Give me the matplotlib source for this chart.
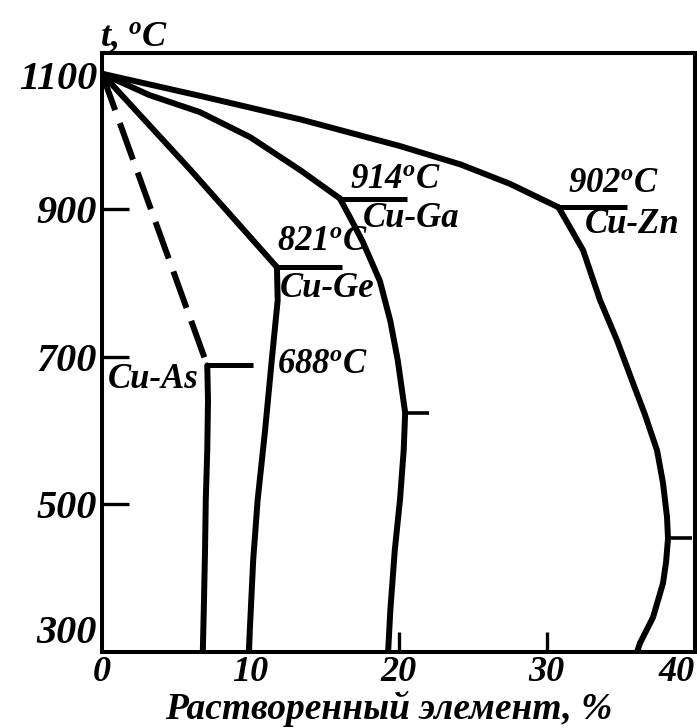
import matplotlib
matplotlib.use("Agg")
import matplotlib.pyplot as plt
from matplotlib.transforms import ScaledTranslation

plt.rcParams["font.family"] = ["Liberation Serif", "DejaVu Serif"]
plt.rcParams["mathtext.fontset"] = "custom"
plt.rcParams["mathtext.it"] = "Liberation Serif:italic:bold"
plt.rcParams["mathtext.rm"] = "Liberation Serif:italic:bold"

# ---- solubility curves (wt. % of dissolved element, temperature in deg C) ----
zn_liq_x = [0, 6.6, 13.4, 20.1, 24.2, 27.5, 30.8]
zn_liq_t = [1083, 1053, 1021, 985, 960, 934, 902]
zn_sol_x = [30.8, 32.45, 33.6, 34.74, 35.82, 36.63, 37.44, 37.84, 38.11, 38.18,
            38.05, 37.84, 37.17, 36.29, 36.09]
zn_sol_t = [902, 844, 776, 722, 664, 621, 573, 529, 483, 454,
            422, 393, 347, 312, 300]

ga_liq_x = [0, 3.2, 6.6, 10.0, 13.4, 16.05]
ga_liq_t = [1083, 1054, 1031, 997, 952, 914]
ga_sol_x = [16.05, 16.9, 17.6, 18.75, 19.45, 19.95, 20.45, 20.35, 20.1, 19.75, 19.45, 19.3]
ga_sol_t = [914, 882, 855, 802, 748, 695, 624, 573, 506, 438, 357, 300]

ge_liq_x = [0, 6.0, 11.8]
ge_liq_t = [1083, 952, 821]
ge_sol_x = [11.8, 11.85, 11.45, 11.0, 10.5, 10.2, 9.9]
ge_sol_t = [821, 776, 695, 600, 506, 425, 300]

as_liq_x = [0, 7.1]
as_liq_t = [1083, 688]
as_sol_x = [7.1, 7.15, 7.1, 7.0, 6.95, 6.88, 6.8]
as_sol_t = [688, 641, 573, 506, 438, 370, 300]

# peritectic isotherms: temperature, start and end composition
iso_t = [902, 914, 821, 688]
iso_x0 = [30.8, 16.05, 11.8, 7.1]
iso_x1 = [35.4, 20.6, 16.2, 10.2]
iso_labels = ["902$^o$C", "914$^o$C", "821$^o$C", "688$^o$C"]
system_labels = ["Cu-Zn", "Cu-Ga", "Cu-Ge", "Cu-As"]

# maximum solubility points
max_x = [38.2, 20.45]
max_t = [454, 624]

x_ticks = [0, 10, 20, 30, 40]
y_ticks = [300, 500, 700, 900, 1100]

W, H = 697, 728
fig = plt.figure(figsize=(W / 100, H / 100), dpi=100)
ax = fig.add_axes([102 / W, (H - 652) / H, (695 - 102) / W, (652 - 53) / H])
ax.set_xlim(0, 40)
ax.set_ylim(300, 1111)

lw = 4.3
solid = dict(color="black", lw=lw, solid_capstyle="round", solid_joinstyle="round")
ax.plot(zn_liq_x, zn_liq_t, **solid)
ax.plot(zn_sol_x, zn_sol_t, **solid)
ax.plot(ga_liq_x, ga_liq_t, **solid)
ax.plot(ga_sol_x, ga_sol_t, **solid)
ax.plot(ge_liq_x, ge_liq_t, **solid)
ax.plot(ge_sol_x, ge_sol_t, **solid)
ax.plot(as_liq_x, as_liq_t, color="black", lw=lw, dashes=(6.5, 2.3), dash_capstyle="butt")
ax.plot(as_sol_x, as_sol_t, **solid)

ax.hlines(iso_t, iso_x0, iso_x1, color="black", lw=3.6)
for x, t in zip(max_x, max_t):
    ax.hlines(t, x, x + 1.6, color="black", lw=2.6)

txt = dict(fontsize=25, fontweight="bold", fontstyle="italic", color="black")
# temperature labels above the isotherms, system names below
iso_label_pos = [(31.4, 923), (16.7, 928), (11.8, 844), (11.8, 678)]
sys_label_pos = [(32.6, 867), (17.6, 875), (12.0, 780), (0.4, 657)]
for s, (x, y) in zip(iso_labels, iso_label_pos):
    ax.text(x, y, s, ha="left", va="baseline", **txt)
for s, (x, y) in zip(system_labels, sys_label_pos):
    ax.text(x, y, s, ha="left", va="baseline", **txt)

for side in ["left", "right", "top", "bottom"]:
    ax.spines[side].set_linewidth(2.9)

ax.set_xticks(x_ticks)
ax.set_yticks(y_ticks)
ax.set_xticklabels([str(v) for v in x_ticks])
ax.set_yticklabels([str(v) for v in y_ticks])
ax.tick_params(axis="x", direction="in", length=14.4, width=2.4, pad=3)
ax.tick_params(axis="y", direction="in", length=19.4, width=2.4, pad=3.5)
for lab in ax.get_xticklabels():
    lab.set_fontsize(26)
    lab.set_fontweight("bold")
    lab.set_fontstyle("italic")
for lab in ax.get_yticklabels():
    lab.set_fontsize(29)
    lab.set_fontweight("bold")
    lab.set_fontstyle("italic")

xt = ax.xaxis.get_major_ticks()
yt = ax.yaxis.get_major_ticks()
for t in (xt[0], xt[-1], yt[0], yt[-1]):
    t.tick1line.set_visible(False)
yt[-1].label1.set_va("top")
yt[0].label1.set_va("bottom")
xt[-1].label1.set_transform(xt[-1].label1.get_transform() + ScaledTranslation(-0.18, 0, fig.dpi_scale_trans))

fig.text(389 / W, (H - 719) / H, "Растворенный элемент, %", ha="center", va="baseline",
         fontsize=27, fontweight="bold", fontstyle="italic")
fig.text(100 / W, (H - 46) / H, "t, $^o$C", ha="left", va="baseline",
         fontsize=26, fontweight="bold", fontstyle="italic")

fig.savefig("out.png", dpi=100, facecolor="white")
